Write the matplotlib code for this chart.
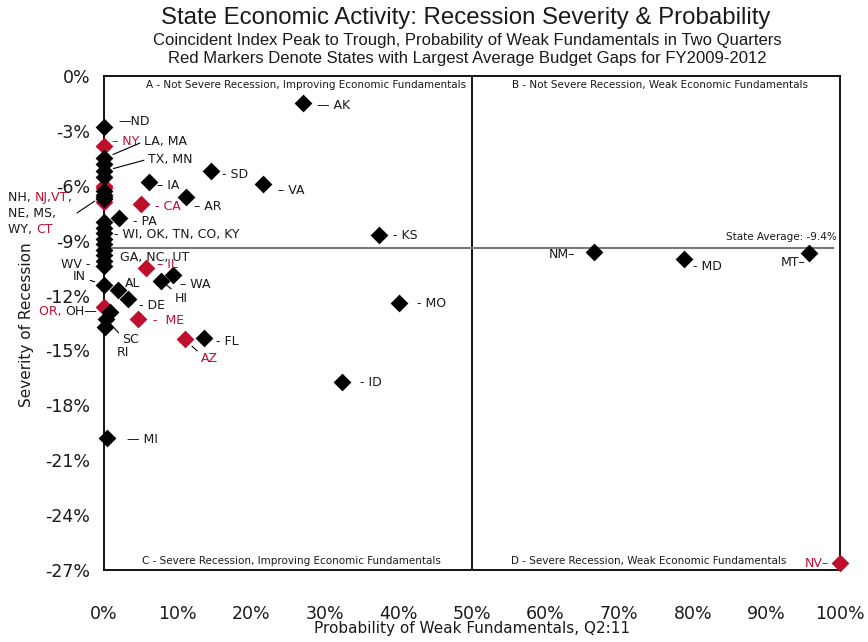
import matplotlib
matplotlib.use("Agg")
import matplotlib.pyplot as plt
from matplotlib.ticker import FuncFormatter

# ---------------- data ----------------
states = ["ND", "NY", "LA", "MA", "TX", "MN", "NJ", "VT", "NH", "NE", "MS", "WY", "CT", "PA",
          "WI", "OK", "TN", "CO", "KY", "GA", "NC", "UT", "WV", "IN", "AL", "DE", "OR", "OH",
          "SC", "RI", "IL", "WA", "HI", "ME", "AZ", "FL", "MI", "IA", "CA", "AR", "SD", "VA",
          "AK", "KS", "MO", "ID", "NM", "MD", "MT", "NV"]
prob_weak = [0.0, 0.0, 0.0, 0.0, 0.0, 0.0, 0.0, 0.0, 0.0, 0.0, 0.0, 0.0, 0.0, 2.0,
             0.0, 0.0, 0.0, 0.0, 0.0, 0.0, 0.0, 0.0, 0.0, 0.0, 1.9, 3.3, 0.0, 0.8,
             0.3, 0.1, 5.7, 9.4, 7.8, 4.6, 11.0, 13.6, 0.4, 6.1, 5.0, 11.1, 14.6, 21.6,
             27.1, 37.4, 40.1, 32.3, 66.6, 78.8, 95.8, 100.0]
severity = [-2.8, -3.8, -4.5, -4.8, -5.2, -5.5, -6.0, -6.1, -6.3, -6.5, -6.6, -6.7, -6.9, -7.75,
            -8.0, -8.3, -8.6, -8.9, -9.2, -9.5, -9.8, -10.1, -10.4, -11.4, -11.7, -12.2, -12.6, -12.9,
            -13.3, -13.7, -10.5, -10.9, -11.2, -13.3, -14.4, -14.3, -19.8, -5.8, -7.0, -6.6, -5.2, -5.9,
            -1.5, -8.7, -12.4, -16.7, -9.6, -10.0, -9.7, -26.6]
budget_gap_states = ["NY", "NJ", "VT", "CT", "CA", "IL", "OR", "ME", "AZ", "NV"]
state_average = -9.4
x_ticks = [0, 10, 20, 30, 40, 50, 60, 70, 80, 90, 100]
y_ticks = [0, -3, -6, -9, -12, -15, -18, -21, -24, -27]
quadrant_labels = ["A - Not Severe Recession, Improving Economic Fundamentals",
                   "B - Not Severe Recession, Weak Economic Fundamentals",
                   "C - Severe Recession, Improving Economic Fundamentals",
                   "D - Severe Recession, Weak Economic Fundamentals"]

# ---------------- style ----------------
RED = "#BE0F2D"
BLK = "#000000"
TXT = "#1a1a1a"
plt.rcParams["font.family"] = ["DejaVu Sans"]

fig = plt.figure(figsize=(8.68, 6.42), dpi=100)
ax = fig.add_axes([104 / 868, 1 - 570 / 642, 736 / 868, 494 / 642])
ax.set_xlim(0, 100)
ax.set_ylim(-27, 0)

for sp in ax.spines.values():
    sp.set_linewidth(1.3)
    sp.set_color("black")

ax.set_xticks(x_ticks)
ax.set_yticks(y_ticks)
ax.xaxis.set_major_formatter(FuncFormatter(lambda v, p: f"{int(round(v))}%"))
ax.yaxis.set_major_formatter(FuncFormatter(lambda v, p: f"{int(round(v))}%"))
ax.tick_params(axis="both", length=0, labelsize=12.5, colors=TXT)
ax.tick_params(axis="y", pad=10)
ax.tick_params(axis="x", pad=25.5)

# quadrant lines
ax.axvline(50, color="black", lw=1.3, zorder=1)
ax.axhline(state_average, xmin=0, xmax=0.99, color="#7a7a7a", lw=1.5, zorder=1)
ax.text(99.5, state_average + 0.35, f"State Average: {state_average:.1f}%", ha="right",
        va="bottom", fontsize=7.5, color=TXT)

# quadrant labels
qpos = [(27.5, -0.5), (75.5, -0.5), (25.5, -26.5), (74.0, -26.5)]
for lbl, (qx, qy) in zip(quadrant_labels, qpos):
    ax.text(qx, qy, lbl, ha="center", va="center", fontsize=7.5, color=TXT)

# markers: red first, black on top
is_red = [s in budget_gap_states for s in states]
rx = [x for x, r in zip(prob_weak, is_red) if r]
ry = [y for y, r in zip(severity, is_red) if r]
bx = [x for x, r in zip(prob_weak, is_red) if not r]
by = [y for y, r in zip(severity, is_red) if not r]
ax.scatter(rx, ry, marker="D", s=82, color=RED, linewidths=0, clip_on=False, zorder=3)
ax.scatter(bx, by, marker="D", s=82, color=BLK, linewidths=0, clip_on=False, zorder=4)


def pt(s):
    i = states.index(s)
    return prob_weak[i], severity[i]


def col(s):
    return RED if s in budget_gap_states else TXT


FS = 9


def lab(s, text, dx, dy, ha="left", color=None):
    return ax.annotate(text, pt(s), xytext=(dx, dy), textcoords="offset pixels",
                       ha=ha, va="center", fontsize=FS, color=color or col(s),
                       annotation_clip=False, zorder=5)


def leader(s, text, dx, dy, ha="left", relpos=(0, 0.5), shrinkB=7, color=TXT):
    return ax.annotate(text, pt(s), xytext=(dx, dy), textcoords="offset pixels",
                       ha=ha, va="center", fontsize=FS, color=color,
                       annotation_clip=False, zorder=5,
                       arrowprops=dict(arrowstyle="-", color="black", lw=0.8,
                                       shrinkA=1, shrinkB=shrinkB, relpos=relpos))


def chain(prev, text, color, side="right"):
    if side == "right":
        return ax.annotate(text, (1, 0.5), xycoords=prev, ha="left", va="center",
                           fontsize=FS, color=color, annotation_clip=False, zorder=5)
    return ax.annotate(text, (0, 0.5), xycoords=prev, ha="right", va="center",
                       fontsize=FS, color=color, annotation_clip=False, zorder=5)


# single labels with dash
lab("ND", "\u2014ND", 14, 6)
lab("NY", "\u2013 NY", 8, 4)
lab("PA", "- PA", 14, -4)
lab("IL", "\u2013 IL", 11, 4)
lab("WA", "\u2013 WA", 7, -9)
lab("DE", "- DE", 11, -6)
lab("ME", "-  ME", 15, -1)
lab("FL", "- FL", 12, -4)
lab("MI", "\u2014 MI", 20, -1)
lab("IA", "\u2013 IA", 8, -3)
lab("CA", "- CA", 14, -2)
lab("AR", "\u2013 AR", 8, -10)
lab("SD", "- SD", 11, -3)
lab("VA", "\u2013 VA", 15, -7)
lab("AK", "\u2014 AK", 14, -2)
lab("KS", "- KS", 14, 0)
lab("MO", "- MO", 18, -1)
lab("ID", "- ID", 18, -1)
lab("NM", "NM\u2013", -19, -3, ha="right")
lab("MD", "- MD", 9, -8)
lab("MT", "MT\u2013", -4, -9, ha="right")
lab("NV", "NV\u2013", -11, -1, ha="right")
lab("AL", "AL", 7, 7)
lab("WV", "WV -", -14, 2, ha="right")

# labels with leader lines
leader("LA", "LA, MA", 40, 17)
leader("TX", "TX, MN", 44, 12)
leader("IN", "IN", -18, 8, ha="right", relpos=(1, 0.3))
leader("HI", "HI", 13, -18, relpos=(0.1, 1), shrinkB=5)
leader("AZ", "AZ", 16, -19, relpos=(0, 0.8), color=RED)
leader("SC", "SC", 16, -20, relpos=(0, 0.7), shrinkB=5)
lab("RI", "RI", 12, -26)

# group labels
lab("TN", "- WI, OK, TN, CO, KY", 10, -1, color=TXT)
lab("NC", "GA, NC, UT", 16, -2, color=TXT)

# OR, OH
oh = lab("OH", "OH\u2014", -13, 1, ha="right", color=TXT)
chain(oh, "OR, ", RED, side="left")

# NH group (multi-coloured, three lines)
l1 = lab("NE", "NH, ", -96, -3, color=TXT)
l1b = chain(l1, "NJ,VT", RED)
chain(l1b, ",", TXT)
lab("NE", "NE, MS,", -96, -19, color=TXT)
l3 = lab("NE", "WY, ", -96, -35, color=TXT)
chain(l3, "CT", RED)
ax.annotate("", pt("NE"), xytext=(-27, -18), textcoords="offset pixels",
            annotation_clip=False,
            arrowprops=dict(arrowstyle="-", color="black", lw=0.8, shrinkA=0, shrinkB=8))

# titles
fig.text(466 / 868, 1 - 18 / 642, "State Economic Activity: Recession Severity & Probability",
         ha="center", va="center", fontsize=17.3, color=TXT, family="Liberation Sans")
fig.text(467 / 868, 1 - 41 / 642,
         "Coincident Index Peak to Trough, Probability of Weak Fundamentals in Two Quarters",
         ha="center", va="center", fontsize=12, color=TXT, family="Liberation Sans")
fig.text(467 / 868, 1 - 58 / 642,
         "Red Markers Denote States with Largest Average Budget Gaps for FY2009-2012",
         ha="center", va="center", fontsize=12, color=TXT, family="Liberation Sans")
fig.text(27 / 868, 1 - 325 / 642, "Severity of Recession", rotation=90, ha="center",
         va="center", fontsize=11, color=TXT)
fig.text(472 / 868, 1 - 629 / 642, "Probability of Weak Fundamentals, Q2:11", ha="center",
         va="center", fontsize=11, color=TXT)

fig.savefig("out.png", dpi=100)
